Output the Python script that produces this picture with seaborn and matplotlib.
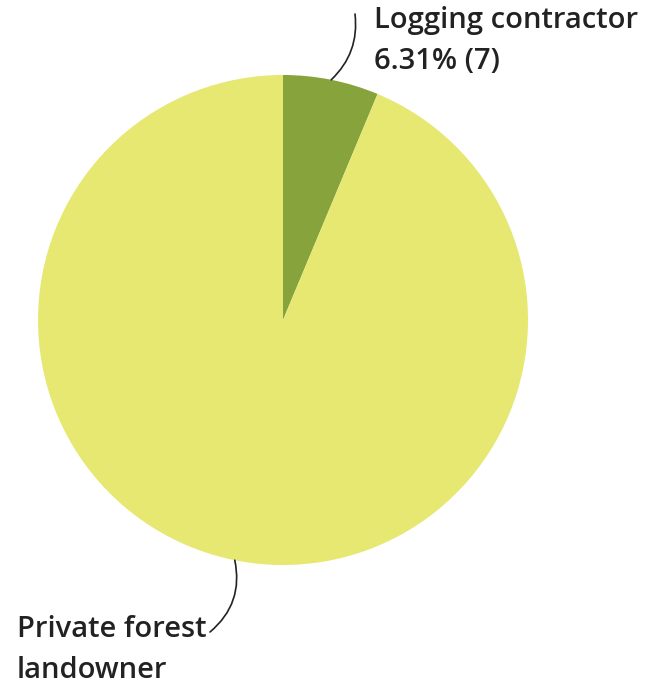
import numpy as np
import matplotlib
matplotlib.use("Agg")
import matplotlib.pyplot as plt
import seaborn as sns

# --- data ---
categories = ["Logging contractor", "Private forest landowner"]
counts = [7, 104]
label_lines = ["Logging contractor\n6.31% (7)", "Private forest\nlandowner"]
colors = ["#86a33c", "#e6e872"]

sns.set_theme(style="white")
plt.rcParams['font.family'] = ['Open Sans', 'DejaVu Sans']

W, H = 645, 688
fig = plt.figure(figsize=(W / 100, H / 100), dpi=100)
ax = fig.add_axes([0, 0, 1, 1])

cx, cy, r = 283, H - 320, 245
wedges, _ = ax.pie(counts, colors=colors, startangle=90, counterclock=False,
                   center=(cx, cy), radius=r, frame=True,
                   wedgeprops=dict(linewidth=0))
ax.set_xlim(0, W)
ax.set_ylim(0, H)
ax.set_aspect("equal")
ax.axis("off")

# label anchor points (pixel coords, y downward in reference)
text_pos = [(374, 6), (17, 615)]
line_end = [(355, 14), (210, 632)]
rads = [-0.25, 0.3]

for w, txt, tp, le, rad in zip(wedges, label_lines, text_pos, line_end, rads):
    ang = np.deg2rad((w.theta1 + w.theta2) / 2)
    ex, ey = cx + r * np.cos(ang), cy + r * np.sin(ang)
    ax.annotate("", xy=(ex, ey), xytext=(le[0], H - le[1]),
                arrowprops=dict(arrowstyle="-", color="#222222", lw=1.2,
                                connectionstyle=f"arc3,rad={rad}",
                                shrinkA=0, shrinkB=0))
    ax.text(tp[0], H - tp[1], txt, ha="left", va="top", fontsize=21,
            fontweight="semibold", color="#222222", linespacing=1.55)

fig.savefig("out.png", dpi=100)
